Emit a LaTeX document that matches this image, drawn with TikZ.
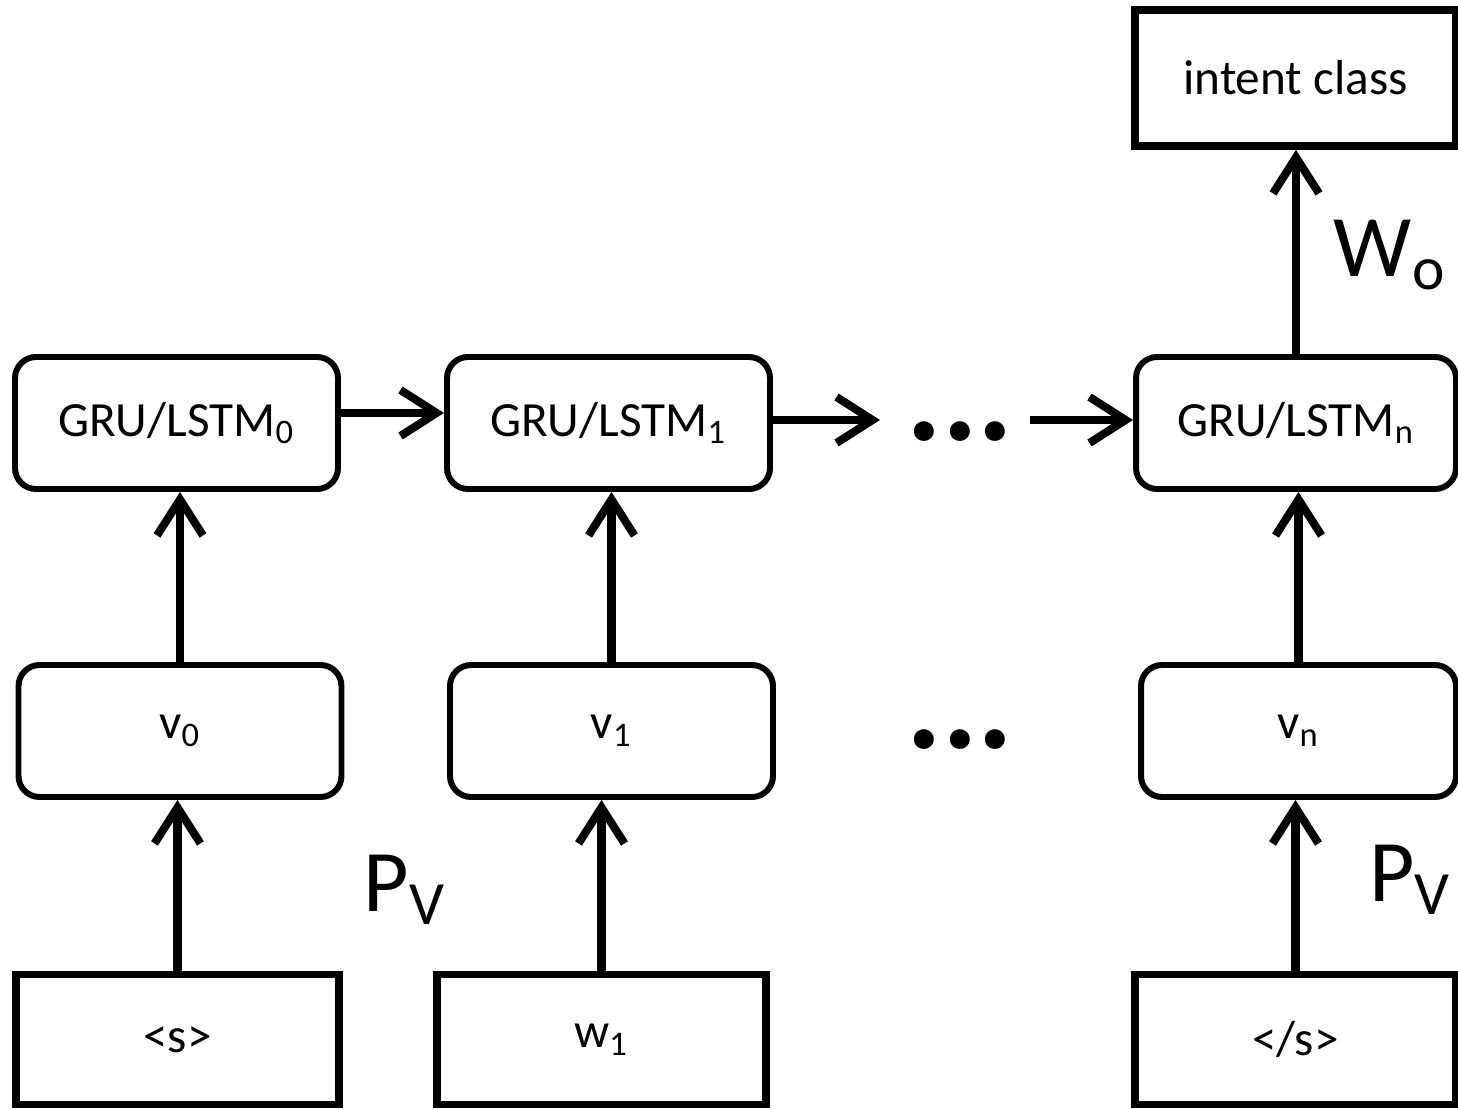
\documentclass[tikz,border=0pt]{standalone}
\usepackage{fontspec}
\setmainfont{Carlito}
\usepackage{tikz}
\usetikzlibrary{arrows.meta, positioning}

\begin{document}
\begin{tikzpicture}[
  cell/.style={draw, line width=1.7pt, rounded corners=6pt, minimum width=3.23cm, minimum height=1.32cm, inner sep=0pt, font=\fontsize{14}{16}\selectfont},
  token/.style={draw, line width=2.2pt, minimum width=3.23cm, minimum height=1.30cm, inner sep=0pt, font=\fontsize{14}{16}\selectfont},
  dots/.style={font=\fontsize{38}{38}\selectfont\bfseries, inner sep=0pt},
  weight/.style={font=\fontsize{25}{28}\selectfont, inner sep=0pt},
  arrow/.style={-{Straight Barb[length=3.6mm, width=4.6mm, line width=2.3pt]}, line width=2.3pt}
]
\useasboundingbox (0,0) rectangle (14.58,11.08);

% recurrent cells
\node[cell] (gru0) at (1.765,6.85) {GRU/LSTM\textsubscript{0}};
\node[cell] (gru1) at (6.085,6.85) {GRU/LSTM\textsubscript{1}};
\node[cell, minimum width=3.20cm] (grun) at (12.96,6.85) {GRU/LSTM\textsubscript{n}};

% word vectors
\node[cell] (v0) at (1.80,3.77) {v\textsubscript{0}};
\node[cell] (v1) at (6.115,3.77) {v\textsubscript{1}};
\node[cell, minimum width=3.15cm] (vn) at (12.985,3.77) {v\textsubscript{n}};

% input tokens
\node[token] (s0) at (1.775,0.685) {<s>};
\node[token, minimum width=3.29cm] (w1) at (6.015,0.685) {w\textsubscript{1}};
\node[token, minimum width=3.21cm] (sn) at (12.955,0.685) {</s>};

% output
\node[token, minimum width=3.21cm, minimum height=1.36cm] (intent) at (12.955,10.30) {intent class};

% elided steps
\node[dots] (dotsA) at (9.60,6.76) {...};
\node[dots] (dotsB) at (9.60,3.68) {...};
\coordinate (chainout) at (8.80,6.88);
\coordinate (chainin) at (10.30,6.88);

\draw[arrow] (s0) -- (s0 |- v0.south);
\draw[arrow] (w1) -- (w1 |- v1.south);
\draw[arrow] (sn) -- (sn |- vn.south);
\draw[arrow] (v0) -- (v0 |- gru0.south);
\draw[arrow] (v1) -- (v1 |- gru1.south);
\draw[arrow] (vn) -- (vn |- grun.south);

\draw[arrow] ([yshift=1mm]gru0.east) -- ([yshift=1mm]gru1.west);
\draw[arrow] (gru1.east |- chainout) -- (chainout);
\draw[arrow] (chainin) -- (chainin -| grun.west);
\draw[arrow] (grun) -- (grun |- intent.south);

\node[weight] (wo) at (13.90,8.53) {W\textsubscript{o}};
\node[weight] (pv0) at (4.05,2.18) {P\textsubscript{V}};
\node[weight] (pvn) at (14.10,2.28) {P\textsubscript{V}};
\end{tikzpicture}
\end{document}
